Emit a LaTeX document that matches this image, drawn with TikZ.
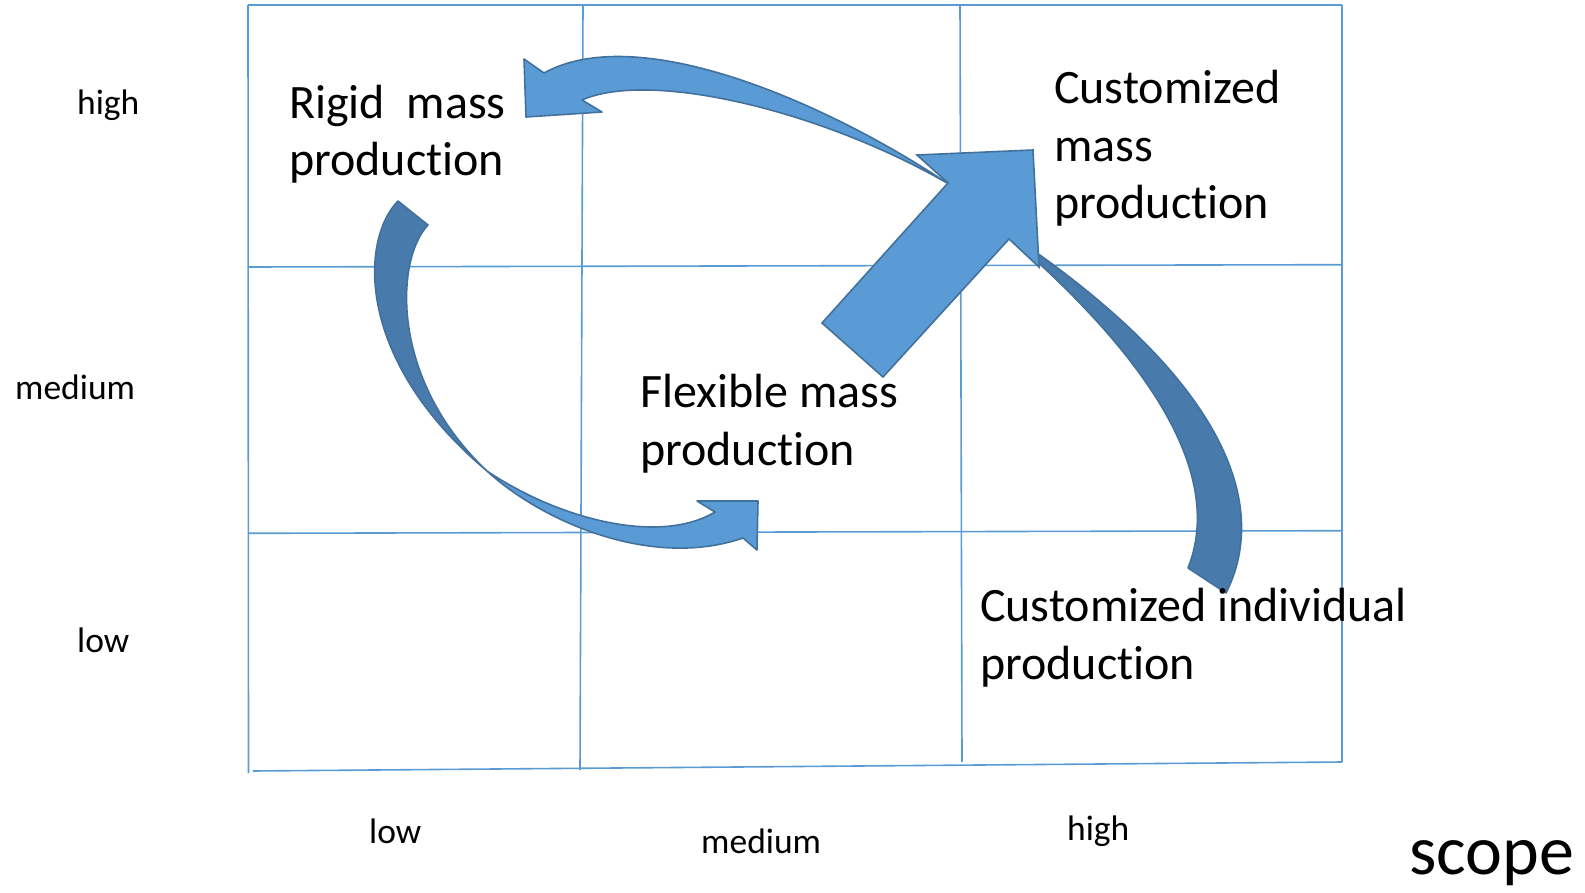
\documentclass[tikz,border=0pt]{standalone}
\usepackage{fontspec}
\setmainfont{Carlito}[Ligatures=NoCommon]
\definecolor{gridblue}{HTML}{5B9BD5}
\definecolor{arrowfill}{HTML}{5B9BD5}
\definecolor{arrowline}{HTML}{41719C}
\definecolor{arrowdark}{HTML}{487AAB}
\begin{document}
\begin{tikzpicture}[x=1pt,y=-1pt,
  gridline/.style={draw=gridblue,line width=1.6pt},
  lightarrow/.style={fill=arrowfill,draw=arrowline,line width=1.6pt,line join=round},
  darkarrow/.style={fill=arrowdark,draw=arrowline,line width=1.6pt,line join=round},
  biglabel/.style={anchor=base west,inner sep=0pt,align=left,font=\fontsize{48}{57.5}\selectfont},
  axislabel/.style={anchor=base west,inner sep=0pt,font=\fontsize{35.5}{42}\selectfont}]
\useasboundingbox (0,0) rectangle (1585,893);
% grid
\draw[gridline] (248,5) -- (1342,5);
\draw[gridline] (248,5) -- (248.5,773);
\draw[gridline] (1342,5) -- (1342,762);
\draw[gridline] (253,771) -- (1342,762);
\draw[gridline] (583,5) -- (580,770);
\draw[gridline] (960,5) -- (962,762);
\draw[gridline] (248,267) -- (1342,264.7);
\draw[gridline] (248,533.3) -- (1342,530.7);
% arrow D (dark, right)
\draw[darkarrow] (1188,568) -- (1226,593) .. controls (1268,510) and (1232,390) .. (1030,248) -- (1030,255) .. controls (1190,400) and (1215,500) .. (1188,568) -- cycle;
% arrow A (big straight)
\draw[lightarrow,line join=miter] (822,323) -- (948,183) -- (917,155) -- (1033,150) -- (1039,267) -- (1009,239) -- (883,377) -- cycle;
% arrow B (top, back to rigid)
\draw[lightarrow] (947,183) .. controls (830,105) and (640,20) .. (544,73) -- (524,59) -- (526,117) -- (602,112) -- (582,100) .. controls (650,70) and (820,110) .. (947,183) -- cycle;
% arrow C (left, rigid to flexible)
\draw[darkarrow] (398,201) .. controls (360,240) and (355,360) .. (487,471) .. controls (390,380) and (395,260) .. (428,225) -- cycle;
\draw[lightarrow] (487,471) .. controls (560,520) and (660,545) .. (715,512) -- (697,501) -- (758,501) -- (757,550) -- (743,538) .. controls (650,570) and (540,520) .. (487,471) -- cycle;
% labels (anchored at the baseline of the last line)
\node[biglabel] (rigid) at (289,176) {Rigid\ \ mass\\production};
\node[biglabel] (custmass) at (1054,219) {Customized\\mass\\production};
\node[biglabel] (flex) at (640,465) {Flexible mass\\production};
\node[biglabel] (custind) at (980,679) {Customized individual\\production};
\node[axislabel] (yhigh) at (77,115) {high};
\node[axislabel] (ymed) at (15,399) {medium};
\node[axislabel] (ylow) at (77,652) {low};
\node[axislabel] (xlow) at (369,843) {low};
\node[axislabel] (xmed) at (701,853) {medium};
\node[axislabel] (xhigh) at (1067,840) {high};
\node[anchor=base west,inner sep=0pt,font=\fontsize{70}{84}\selectfont] (scope) at (1409,874) {scope};
\end{tikzpicture}
\end{document}
